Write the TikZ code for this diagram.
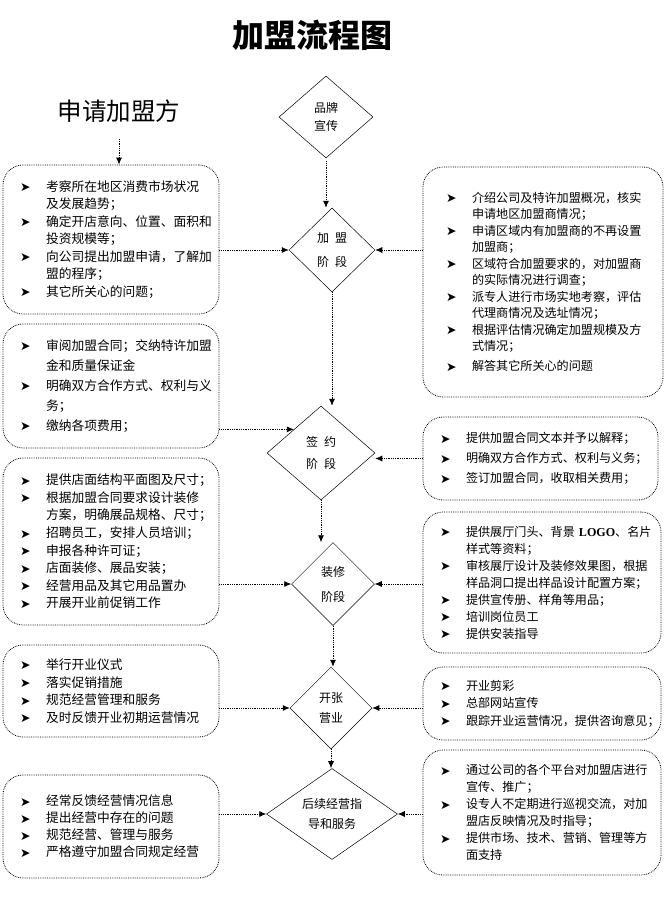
\documentclass[tikz,border=0pt]{standalone}
\usepackage{fontspec}
\setmainfont{Noto Sans CJK SC}
\newfontfamily\arrowfont{DejaVu Sans}
\newfontfamily\logofont{Liberation Serif}
\usetikzlibrary{shapes.geometric,arrows.meta}

\newcommand\bul{\makebox[26pt][l]{\raisebox{-0.5pt}{\arrowfont\fontsize{12.5}{12.5}\selectfont ➤}}}
\newcommand\cnt{\hspace*{26pt}}

\tikzset{
  box/.style={draw, densely dotted, line width=0.8pt, rounded corners=20pt,
    inner xsep=17pt, inner ysep=0pt, align=left},
  stage/.style={draw, diamond, line width=0.5pt, inner sep=0pt, align=center},
  conn/.style={densely dotted, line width=0.8pt, -{Latex[length=7pt,width=6pt]}}
}

\begin{document}
\begin{tikzpicture}[x=1pt,y=-1pt]
  \useasboundingbox (0,0) rectangle (666,900);

  \node (title) at (312,35) {\fontsize{32}{32}\selectfont\bfseries 加盟流程图};
  \node (apply) at (119,111) {\fontsize{24.5}{24.5}\selectfont 申请加盟方};

  % stages
  \node[stage, minimum width=94pt, minimum height=82pt, font=\fontsize{12}{18}\selectfont] (brand) at (326,117) {品牌\\宣传};
  \node[stage, minimum width=86pt, minimum height=84pt, font=\fontsize{12}{24}\selectfont] (join) at (332,250) {加\hspace{6pt}盟\\阶\hspace{6pt}段};
  \node[stage, minimum width=108pt, minimum height=94pt, font=\fontsize{12}{22}\selectfont] (sign) at (321,453) {签\hspace{6pt}约\\阶\hspace{6pt}段};
  \node[stage, minimum width=83pt, minimum height=83pt, font=\fontsize{12}{25}\selectfont] (decor) at (333,584) {装修\\阶段};
  \node[stage, minimum width=82pt, minimum height=82pt, font=\fontsize{12}{20}\selectfont] (open) at (331,708) {开张\\营业};
  \node[stage, minimum width=131pt, minimum height=82pt, font=\fontsize{12}{20}\selectfont] (follow) at (332,814) {后续经营指\\导和服务};

  % left side
  \node[box, text width=182pt, minimum height=149pt, font=\fontsize{12.75}{17.5}\selectfont] (l1) at (111,239.5) {%
    \bul 考察所在地区消费市场状况\\ \cnt 及发展趋势；\\
    \bul 确定开店意向、位置、面积和\\ \cnt 投资规模等；\\
    \bul 向公司提出加盟申请，了解加\\ \cnt 盟的程序；\\
    \bul 其它所关心的问题；};
  \node[box, text width=182pt, minimum height=124pt, font=\fontsize{12.75}{20}\selectfont] (l2) at (111,386) {%
    \bul 审阅加盟合同；交纳特许加盟\\ \cnt 金和质量保证金\\
    \bul 明确双方合作方式、权利与义\\ \cnt 务；\\
    \bul 缴纳各项费用；};
  \node[box, text width=182pt, minimum height=167pt, font=\fontsize{12.75}{17.6}\selectfont] (l3) at (111,541.5) {%
    \bul 提供店面结构平面图及尺寸；\\
    \bul 根据加盟合同要求设计装修\\ \cnt 方案，明确展品规格、尺寸；\\
    \bul 招聘员工，安排人员培训；\\
    \bul 申报各种许可证；\\
    \bul 店面装修、展品安装；\\
    \bul 经营用品及其它用品置办\\
    \bul 开展开业前促销工作};
  \node[box, text width=182pt, minimum height=92pt, font=\fontsize{12.75}{17.7}\selectfont] (l4) at (111,691) {%
    \bul 举行开业仪式\\
    \bul 落实促销措施\\
    \bul 规范经营管理和服务\\
    \bul 及时反馈开业初期运营情况};
  \node[box, text width=182pt, minimum height=103pt, font=\fontsize{12.75}{17}\selectfont] (l5) at (111,826.5) {%
    \bul 经常反馈经营情况信息\\
    \bul 提出经营中存在的问题\\
    \bul 规范经营、管理与服务\\
    \bul 严格遵守加盟合同规定经营};

  % right side
  \node[box, inner xsep=23pt, text width=194pt, minimum height=230pt, font=\fontsize{12.1}{16.5}\selectfont] (r1) at (543,282) {%
    \bul 介绍公司及特许加盟概况，核实\\ \cnt 申请地区加盟商情况；\\
    \bul 申请区域内有加盟商的不再设置\\ \cnt 加盟商；\\
    \bul 区域符合加盟要求的，对加盟商\\ \cnt 的实际情况进行调查；\\
    \bul 派专人进行市场实地考察，评估\\ \cnt 代理商情况及选址情况；\\
    \bul 根据评估情况确定加盟规模及方\\ \cnt 式情况；\\[3.5pt]
    \bul 解答其它所关心的问题};
  \node[box, text width=201pt, minimum height=83pt, font=\fontsize{12.1}{20}\selectfont] (r2) at (540.5,458.5) {%
    \bul 提供加盟合同文本并予以解释；\\
    \bul 明确双方合作方式、权利与义务；\\
    \bul 签订加盟合同，收取相关费用；};
  \node[box, text width=204pt, minimum height=141pt, font=\fontsize{12.1}{17}\selectfont] (r3) at (542,582.5) {%
    \bul 提供展厅门头、背景~{\logofont\bfseries LOGO}、名片\\ \cnt 样式等资料；\\
    \bul 审核展厅设计及装修效果图，根据\\ \cnt 样品洞口提出样品设计配置方案；\\
    \bul 提供宣传册、样角等用品；\\
    \bul 培训岗位员工\\
    \bul 提供安装指导};
  \node[box, text width=204pt, minimum height=73pt, font=\fontsize{12.1}{17.5}\selectfont] (r4) at (542,703.5) {%
    \bul 开业剪彩\\
    \bul 总部网站宣传\\
    \bul 跟踪开业运营情况，提供咨询意见；};
  \node[box, text width=204pt, minimum height=125pt, font=\fontsize{12.1}{17}\selectfont] (r5) at (542,812.5) {%
    \bul 通过公司的各个平台对加盟店进行\\ \cnt 宣传、推广；\\
    \bul 设专人不定期进行巡视交流，对加\\ \cnt 盟店反映情况及时指导；\\
    \bul 提供市场、技术、营销、管理等方\\ \cnt 面支持};

  % main flow
  \draw[conn, shorten <=13pt] (apply.south) -- (apply.south |- l1.north);
  \draw[conn, shorten <=3pt] (brand.south) -- (brand.south |- join.north);
  \draw[conn] (join.south) -- (join.south |- sign.north);
  \draw[conn] (sign.south) -- (sign.south |- decor.north);
  \draw[conn] (decor.south) -- (decor.south |- open.north);
  \draw[conn] (open.south) -- (open.south |- follow.north);

  % side inputs
  \draw[conn] (l1.east |- join.west) -- (join.west);
  \draw[conn] (r1.west |- join.east) -- (join.east);
  \draw[conn] (l2.east |- sign.north west) -- (sign.north west);
  \draw[conn] (r2.west) -- (r2.west -| sign.east);
  \draw[conn] (l3.east |- decor.west) -- (decor.west);
  \draw[conn] (r3.west |- decor.east) -- (decor.east);
  \draw[conn] (l4.east |- open.west) -- (open.west);
  \draw[conn] (r4.west |- open.east) -- (open.east);
  \draw[conn] (l5.east |- follow.west) -- (follow.west);
  \draw[conn] (r5.west |- follow.east) -- (follow.east);
\end{tikzpicture}
\end{document}
